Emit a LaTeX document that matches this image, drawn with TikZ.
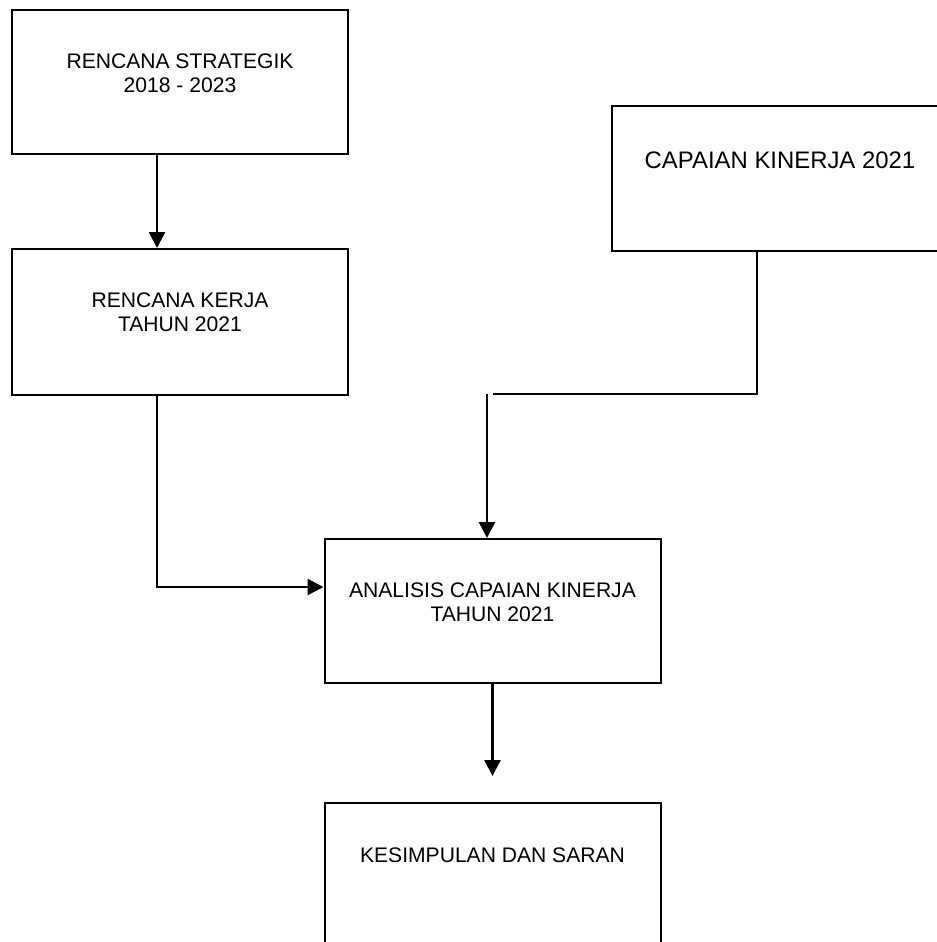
\documentclass[tikz,border=0pt]{standalone}
\usepackage{fontspec}
\setmainfont{Liberation Sans}
\usetikzlibrary{arrows.meta,positioning}
\tikzset{
    stagebox/.style={draw, line width=0.04cm, minimum width=6.72cm, inner sep=0pt},
    stagetext/.style={anchor=north, align=center, inner sep=0pt, font=\fontsize{12}{14}\selectfont},
    flowarrow/.style={line width=0.05cm, -{Triangle[length=0.32cm,width=0.32cm]}},
    flowline/.style={line width=0.03cm},
}
\begin{document}
\begin{tikzpicture}
        \useasboundingbox (0,0) rectangle (18.74,-18.84);
        
        % Box rencana strategik
        \draw (3.600000,-1.640000) node [stagebox, minimum height=2.88cm] (strategik) {};%
        \node [stagetext, below=0.88cm of strategik.north] (strategiktext) {RENCANA STRATEGIK\\2018 - 2023};%
        
        % Box rencana kerja
        \draw (3.600000,-6.440000) node [stagebox, minimum height=2.92cm] (kerja) {};%
        \node [stagetext, below=0.88cm of kerja.north] (kerjatext) {RENCANA KERJA\\TAHUN 2021};%
        
        % Box capaian kinerja
        \draw (15.600000,-3.570000) node [stagebox, minimum height=2.90cm] (capaian) {};%
        \node [stagetext, font=\fontsize{13.6}{16}\selectfont, below=0.92cm of capaian.north] (capaiantext) {CAPAIAN KINERJA 2021};%
        
        % Box analisis
        \draw (9.850000,-12.220000) node [stagebox, minimum height=2.88cm] (analisis) {};%
        \node [stagetext, below=0.88cm of analisis.north] (analisistext) {ANALISIS CAPAIAN KINERJA\\TAHUN 2021};%
        
        % Box kesimpulan
        \draw (9.850000,-17.510000) node [stagebox, minimum height=2.90cm] (kesimpulan) {};%
        \node [stagetext, below=0.90cm of kesimpulan.north] (kesimpulantext) {KESIMPULAN DAN SARAN};%
        
        % Drawing connectors
        \coordinate (joinend) at (9.860000,-7.880000);%
        \coordinate (joinstart) at (9.740000,-7.880000);%
        \draw [flowarrow] ([xshift=-0.46cm]strategik.south) -- ([xshift=-0.46cm]kerja.north);%
        \draw [flowarrow] ([xshift=-0.46cm]kerja.south) |- ([yshift=0.48cm]analisis.west);%
        \draw [flowline] ([xshift=-0.46cm]capaian.south) |- (joinend);%
        \draw [flowarrow] (joinstart) -- (joinstart |- analisis.north);%
        \draw [flowarrow] (analisis.south) -- ([yshift=0.52cm]kesimpulan.north);%
\end{tikzpicture}
\end{document}
